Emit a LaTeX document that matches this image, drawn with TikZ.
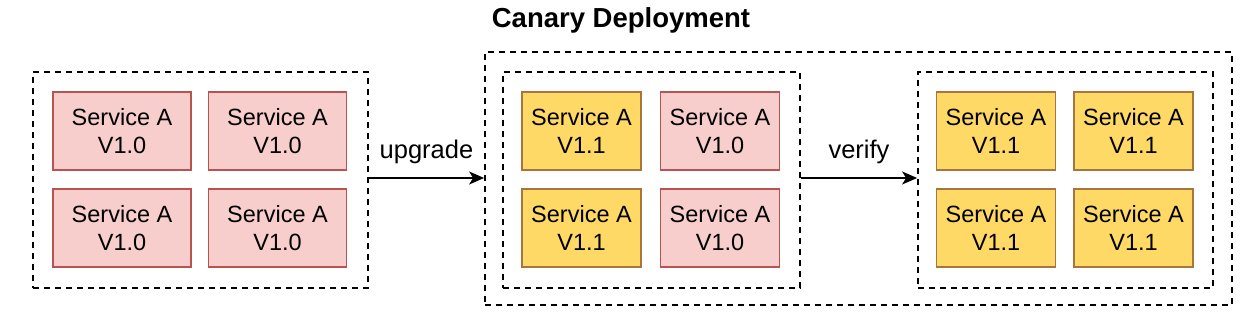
\documentclass[tikz,border=0pt]{standalone}
\usepackage{fontspec}
\setmainfont{Liberation Sans}
\usetikzlibrary{arrows.meta}
\definecolor{oldfill}{HTML}{F8CECC}
\definecolor{olddraw}{HTML}{B85450}
\definecolor{newfill}{HTML}{FFD966}
\definecolor{newdraw}{HTML}{A8753F}
\tikzset{
  oldsvc/.style={draw=olddraw, fill=oldfill, line width=1.6pt, align=center,
    minimum width=138pt, minimum height=78pt, inner sep=0pt,
    font=\fontsize{23.5}{28}\selectfont},
  newsvc/.style={oldsvc, draw=newdraw, fill=newfill, minimum width=119pt},
  grp/.style={draw, line width=1.8pt, dash pattern=on 6pt off 5pt, inner sep=0pt}
}
\begin{document}
\begin{tikzpicture}[x=1pt, y=-1pt, >={Stealth[length=15pt, width=13pt, inset=4pt]}]
    \useasboundingbox (0,0) rectangle (1245,321);

    % 1. Nhóm bên trái (V1.0)
    \node[grp, minimum width=335pt, minimum height=216pt] (before) at (200.5,180) {};
    \node[oldsvc] (b1) at (122,131) {Service A\\V1.0};
    \node[oldsvc] (b2) at (277.5,131) {Service A\\V1.0};
    \node[oldsvc] (b3) at (122,228) {Service A\\V1.0};
    \node[oldsvc] (b4) at (277.5,228) {Service A\\V1.0};

    % 2. Canary Deployment
    \node[grp, minimum width=747pt, minimum height=253pt] (canary) at (858.5,178.5) {};
    \node[font=\fontsize{27.5}{32}\selectfont\bfseries] (title) at (621,20) {Canary Deployment};

    \node[grp, minimum width=297pt, minimum height=216pt] (during) at (651.5,180) {};
    \node[newsvc] (c1) at (581.5,131) {Service A\\V1.1};
    \node[oldsvc, minimum width=119pt] (c2) at (720,131) {Service A\\V1.0};
    \node[newsvc] (c3) at (581.5,228) {Service A\\V1.1};
    \node[oldsvc, minimum width=119pt] (c4) at (720,228) {Service A\\V1.0};

    \node[grp, minimum width=295pt, minimum height=216pt] (after) at (1065.5,180) {};
    \node[newsvc] (a1) at (996,131) {Service A\\V1.1};
    \node[newsvc] (a2) at (1133.5,131) {Service A\\V1.1};
    \node[newsvc] (a3) at (996,228) {Service A\\V1.1};
    \node[newsvc] (a4) at (1133.5,228) {Service A\\V1.1};

    % 3. Mũi tên
    \draw[->, line width=1.8pt] (before.east |- 0,178) -- (canary.west |- 0,178)
        node[midway, above=10pt, font=\fontsize{25.5}{30}\selectfont] (up) {upgrade};
    \draw[->, line width=1.8pt] (during.east |- 0,178) -- (after.west |- 0,178)
        node[midway, above=10pt, font=\fontsize{25.5}{30}\selectfont] (ver) {verify};
\end{tikzpicture}
\end{document}
